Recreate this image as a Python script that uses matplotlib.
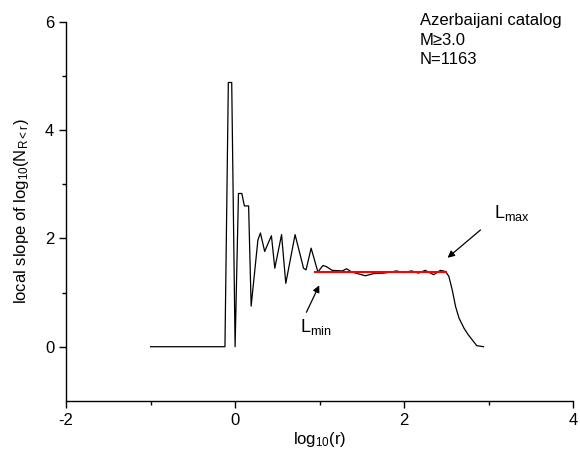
import numpy as np
import matplotlib
matplotlib.use('Agg')
import matplotlib.pyplot as plt

plt.rcParams['font.family'] = ['Liberation Sans', 'DejaVu Sans']
plt.rcParams['mathtext.default'] = 'regular'
plt.rcParams['axes.unicode_minus'] = False

# local slope curve
log_r = [-1.0, -0.12, -0.08, -0.04, 0.0, 0.04, 0.08, 0.11, 0.16, 0.19,
         0.27, 0.30, 0.35, 0.43, 0.47, 0.55, 0.60, 0.71, 0.81, 0.84,
         0.90, 0.98, 1.04, 1.08, 1.15, 1.27, 1.32, 1.38, 1.45, 1.54,
         1.64, 1.76, 1.85, 1.91, 1.99, 2.09, 2.17, 2.25, 2.35, 2.43,
         2.49, 2.53, 2.57, 2.61, 2.65, 2.71, 2.76, 2.80, 2.86, 2.94]
slope = [0.0, 0.0, 4.88, 4.88, 0.0, 2.83, 2.83, 2.6, 2.6, 0.75,
         1.97, 2.1, 1.76, 2.05, 1.45, 2.07, 1.17, 2.07, 1.45, 1.42,
         1.82, 1.38, 1.50, 1.48, 1.41, 1.40, 1.44, 1.38, 1.35, 1.31,
         1.35, 1.36, 1.38, 1.40, 1.37, 1.40, 1.36, 1.41, 1.33, 1.41,
         1.39, 1.30, 1.05, 0.74, 0.53, 0.34, 0.22, 0.14, 0.02, 0.0]

# plateau fit
fit_x = [0.95, 2.50]
fit_y = [1.38, 1.38]

info_lines = ['Azerbaijani catalog', 'M\u22653.0', 'N=1163']

fig = plt.figure(figsize=(5.8, 4.55), dpi=100)
ax = fig.add_axes([0.114, 0.119, 0.874, 0.833])

ax.plot(log_r, slope, color='black', lw=0.9)
ax.plot(fit_x, fit_y, color='red', lw=1.5)

ax.set_xlim(-2, 4)
ax.set_ylim(-1, 6)
ax.set_xticks([-2, 0, 2, 4])
ax.set_xticks([-1, 1, 3], minor=True)
ax.set_yticks([0, 2, 4, 6])
ax.set_yticks([1, 3, 5], minor=True)
ax.tick_params(which='major', direction='out', length=5, width=1, labelsize=12)
ax.tick_params(which='minor', direction='out', length=3, width=1)
for s in ['top', 'right']:
    ax.spines[s].set_visible(False)
ax.spines['left'].set_bounds(-1, 6)
for s in ['left', 'bottom']:
    ax.spines[s].set_linewidth(1)

ax.set_xlabel('log$_{10}$(r)', fontsize=12, labelpad=2)
ax.set_ylabel('local slope of log$_{10}$(N$_{R<r}$)', fontsize=12, labelpad=10)

arrow = dict(arrowstyle='-|>', color='black', lw=0.9, mutation_scale=10)
ax.annotate('', xy=(1.01, 1.18), xytext=(0.83, 0.59), arrowprops=arrow)
ax.annotate('', xy=(2.49, 1.61), xytext=(2.93, 2.19), arrowprops=arrow)
ax.text(0.77, 0.28, 'L$_{min}$', fontsize=13, ha='left', va='baseline')
ax.text(3.07, 2.38, 'L$_{max}$', fontsize=13, ha='left', va='baseline')

fig.text(0.724, 0.972, '\n'.join(info_lines), fontsize=12, ha='left', va='top',
         linespacing=1.4)

fig.savefig('out.png', dpi=100)
